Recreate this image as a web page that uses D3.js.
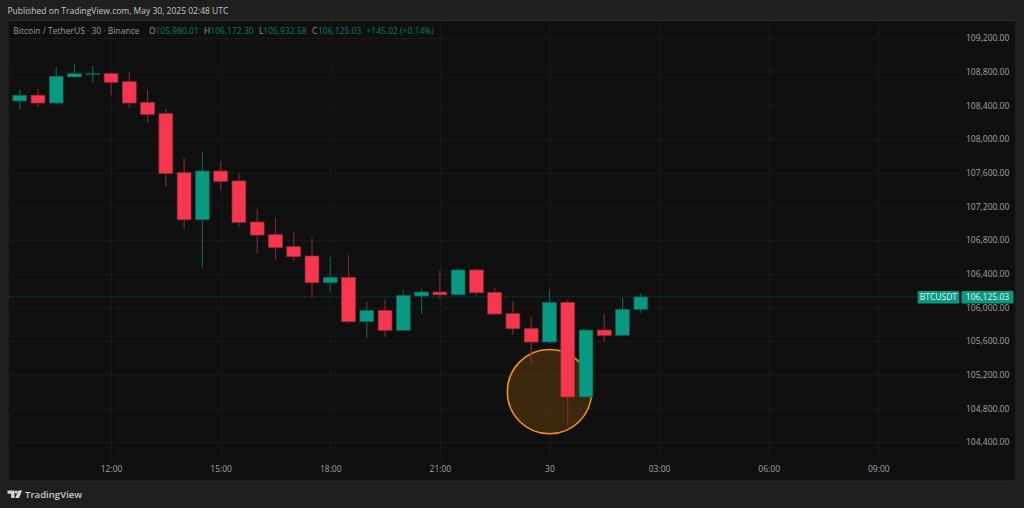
<!DOCTYPE html>
<html>
<head>
<meta charset="utf-8">
<script src="https://cdnjs.cloudflare.com/ajax/libs/d3/7.8.5/d3.min.js"></script>
<style>
  html, body {margin:0; padding:0; background:#1f1f1f;}
  svg {display:block;}
  text {font-family:"Open Sans", sans-serif;}
</style>
</head>
<body>
<script>
// one entry per 30 minute candle, first one is 09:30 on May 29
var opens = [108452,108520,108428,108737,108769,108776,108681,108436,108301,107600,107042,107620,107502,107015,106864,106722,106611,106294,106358,105831,105966,105729,106136,106183,106151,106445,106180,105926,105748,105590,106061,104937,105732,105669,105978];
var closes = [108520,108428,108745,108776,108776,108674,108428,108294,107593,107042,107620,107498,107011,106860,106714,106603,106294,106358,105831,105966,105729,106144,106183,106151,106445,106175,105922,105748,105590,106061,104937,105732,105669,105978,106125];
var highs = [108586,108594,108856,108891,108867,108784,108796,108586,108357,107775,107838,107736,107593,107169,107066,106893,106821,106603,106623,106065,106097,106207,106223,106445,106469,106460,106231,106077,105887,106216,106097,105752,105926,106116,106172];
var lows = [108349,108381,108408,108737,108669,108523,108372,108191,107434,106935,106477,107395,106955,106643,106572,106555,106116,106180,105807,105641,105649,105729,105922,106100,106151,106140,105910,105676,105320,105566,104604,104937,105586,105653,105933];

var priceTicks = [109200,108800,108400,108000,107600,107200,106800,106400,106000,105600,105200,104800,104400];
var timeTickBars = [5,11,17,23,29,35,41,47];
var timeTickLabels = ["12:00","15:00","18:00","21:00","30","03:00","06:00","09:00"];

var lastPrice = 106125.03;
var highlightBar = 29;
var highlightPrice = 105000;
var highlightEdgePrice = 105500;

var width = 1024, height = 508;
var chartLeft = 8, chartRight = 1016, chartTop = 20.5, chartBottom = 481;
var plotBottom = 461, plotRight = 960;

var upColor = "#089981", downColor = "#f7374f";
var upBorder = "#0b5f52", downBorder = "#a32a38";
var upWick = "#0b5f52", downWick = "#7d2831";
var textColor = "#a3a5a9", legendGrey = "#96989c", legendGreen = "#07796a";
var fontSize = "8.5px";

var x = d3.scaleLinear().domain([0, 47]).range([19.7, 878.3]);
var y = d3.scaleLinear().domain([109200, 104400]).range([38, 442.2]);

var svg = d3.select("body").append("svg")
  .attr("width", width)
  .attr("height", height);

svg.append("rect")
  .attr("width", width)
  .attr("height", height)
  .attr("fill", "#1f1f1f");

svg.append("text")
  .attr("x", 7.5)
  .attr("y", 14)
  .attr("fill", "#c4c6ca")
  .style("font-size", fontSize)
  .text("Published on TradingView.com, May 30, 2025 02:48 UTC");

svg.append("rect")
  .attr("x", chartLeft)
  .attr("y", chartTop)
  .attr("width", chartRight - chartLeft)
  .attr("height", chartBottom - chartTop)
  .attr("fill", "#0f0f0f")
  .attr("stroke", "#2b2b2b");

// grid
var gridY = d3.axisLeft(y)
  .tickValues(priceTicks)
  .tickSize(plotRight - chartLeft)
  .tickFormat("");
svg.append("g")
  .attr("transform", "translate(" + plotRight + ",0)")
  .call(gridY)
  .call(function(g) {g.select(".domain").remove();})
  .selectAll("line")
  .attr("stroke", "#1a1a1a");

var gridX = d3.axisTop(x)
  .tickValues(timeTickBars)
  .tickSize(plotBottom - chartTop)
  .tickFormat("");
svg.append("g")
  .attr("transform", "translate(0," + plotBottom + ")")
  .call(gridX)
  .call(function(g) {g.select(".domain").remove();})
  .selectAll("line")
  .attr("stroke", "#1a1a1a");

// highlight circle sits under the candles
svg.append("circle")
  .attr("cx", x(highlightBar))
  .attr("cy", y(highlightPrice))
  .attr("r", y(highlightPrice) - y(highlightEdgePrice))
  .attr("fill", "#ff9800")
  .attr("fill-opacity", 0.18)
  .attr("stroke", "#ec940e")
  .attr("stroke-width", 1.6);

// last price line
svg.append("line")
  .attr("x1", chartLeft)
  .attr("x2", 918)
  .attr("y1", y(lastPrice))
  .attr("y2", y(lastPrice))
  .attr("stroke", "#089981")
  .attr("stroke-opacity", 0.45)
  .attr("stroke-dasharray", "1 1");

var bars = d3.range(opens.length);
var bodyWidth = 13.8;

svg.append("g").selectAll("line")
  .data(bars)
  .join("line")
  .attr("x1", function(d) {return x(d);})
  .attr("x2", function(d) {return x(d);})
  .attr("y1", function(d) {return y(highs[d]);})
  .attr("y2", function(d) {return y(lows[d]);})
  .attr("stroke", function(d) {return closes[d] >= opens[d] ? upWick : downWick;})
  .attr("stroke-width", 1.2);

svg.append("g").selectAll("rect")
  .data(bars)
  .join("rect")
  .attr("x", function(d) {return x(d) - bodyWidth/2;})
  .attr("width", bodyWidth)
  .attr("y", function(d) {return y(Math.max(opens[d], closes[d]));})
  .attr("height", function(d) {return Math.max(0.6, Math.abs(y(opens[d]) - y(closes[d])));})
  .attr("fill", function(d) {return closes[d] >= opens[d] ? upColor : downColor;})
  .attr("stroke", function(d) {return closes[d] >= opens[d] ? upBorder : downBorder;})
  .attr("stroke-width", 0.7);

// price axis
var yAxis = d3.axisRight(y)
  .tickValues(priceTicks)
  .tickSize(0)
  .tickPadding(0)
  .tickFormat(d3.format(",.2f"));
svg.append("g")
  .attr("transform", "translate(966,0)")
  .call(yAxis)
  .call(function(g) {g.select(".domain").remove();})
  .selectAll("text")
  .attr("fill", textColor)
  .style("font-family", "\"Open Sans\", sans-serif")
  .style("font-size", fontSize);

// time axis
var xAxis = d3.axisBottom(x)
  .tickValues(timeTickBars)
  .tickSize(0)
  .tickPadding(0)
  .tickFormat(function(d, i) {return timeTickLabels[i];});
svg.append("g")
  .attr("transform", "translate(0,466)")
  .call(xAxis)
  .call(function(g) {g.select(".domain").remove();})
  .selectAll("text")
  .attr("fill", textColor)
  .style("font-family", "\"Open Sans\", sans-serif")
  .style("font-size", fontSize);

// last price tags
svg.append("rect").attr("x", 917.7).attr("y", 291).attr("width", 41.5).attr("height", 12.4).attr("rx", 1).attr("fill", upColor);
svg.append("rect").attr("x", 961.5).attr("y", 291).attr("width", 52).attr("height", 12.4).attr("rx", 1).attr("fill", upColor);
svg.append("text")
  .attr("x", 938.4).attr("y", 300.2)
  .attr("text-anchor", "middle")
  .attr("fill", "#e8f2f0")
  .style("font-size", fontSize)
  .text("BTCUSDT");
svg.append("text")
  .attr("x", 987.5).attr("y", 300.2)
  .attr("text-anchor", "middle")
  .attr("fill", "#e8f2f0")
  .style("font-size", fontSize)
  .text(d3.format(",.2f")(lastPrice));

// legend row
var legendParts = [
  ["Bitcoin / TetherUS \u00b7 30 \u00b7 Binance", legendGrey, 13.3],
  ["O", legendGrey, 149],
  ["105,980.01", legendGreen, 155.5],
  ["H", legendGrey, 204],
  ["106,172.30", legendGreen, 210.3],
  ["L", legendGrey, 259],
  ["105,932.58", legendGreen, 263.3],
  ["C", legendGrey, 312],
  ["106,125.03", legendGreen, 318],
  ["+145.02 (+0.14%)", legendGreen, 366.5]
];
svg.append("g").selectAll("text")
  .data(legendParts)
  .join("text")
  .attr("x", function(d) {return d[2];})
  .attr("y", 34.3)
  .attr("fill", function(d) {return d[1];})
  .style("font-size", fontSize)
  .text(function(d) {return d[0];});

// logo
var logo = svg.append("g").attr("fill", "#d4d5d8");
logo.append("path").attr("d", "M7.5 490.5h7v7.5h-3.4v-4.2h-3.6z");
logo.append("circle").attr("cx", 16.2).attr("cy", 492).attr("r", 1.5);
logo.append("path").attr("d", "M18.4 490.5h3.8l-3.2 7.5h-3.8z");
svg.append("text")
  .attr("x", 25)
  .attr("y", 498.2)
  .attr("fill", "#c9cace")
  .style("font-size", "9.6px")
  .style("font-weight", "600")
  .text("TradingView");
</script>
</body>
</html>
